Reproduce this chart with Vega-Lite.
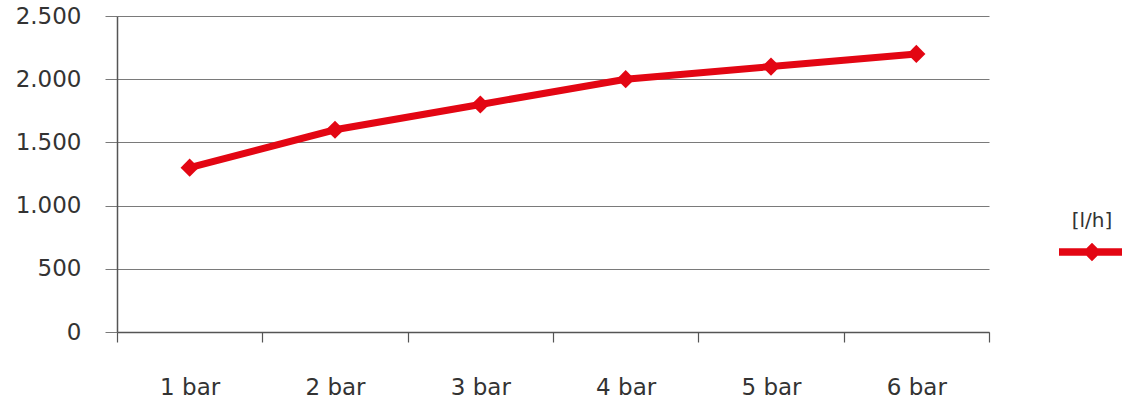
{
  "$schema": "https://vega.github.io/schema/vega-lite/v6.json",
  "width": 872,
  "height": 316,
  "autosize": {"type": "none"},
  "padding": {"left": 117, "top": 16, "right": 133, "bottom": 71},
  "background": "white",
  "config": {
    "view": {"stroke": null},
    "locale": {"number": {"decimal": ",", "thousands": ".", "grouping": [3], "currency": ["", " €"]}},
    "axis": {"labelFont": "DejaVu Sans", "labelFontSize": 23, "labelColor": "#333333"},
    "legend": {"labelFont": "DejaVu Sans", "titleFont": "DejaVu Sans"}
  },
  "data": {
    "values": [
      {"druck": "1 bar", "wert": 1300, "serie": "[l/h]"},
      {"druck": "2 bar", "wert": 1600, "serie": "[l/h]"},
      {"druck": "3 bar", "wert": 1800, "serie": "[l/h]"},
      {"druck": "4 bar", "wert": 2000, "serie": "[l/h]"},
      {"druck": "5 bar", "wert": 2100, "serie": "[l/h]"},
      {"druck": "6 bar", "wert": 2200, "serie": "[l/h]"}
    ]
  },
  "mark": {"type": "line", "strokeWidth": 7, "point": {"shape": "diamond", "size": 330, "filled": true, "opacity": 1}},
  "encoding": {
    "x": {
      "field": "druck",
      "type": "ordinal",
      "scale": {"type": "band", "paddingInner": 0, "paddingOuter": 0},
      "axis": {
        "title": null,
        "labelAngle": 0,
        "tickBand": "extent",
        "grid": false,
        "domainColor": "#555555",
        "domainWidth": 1.5,
        "tickColor": "#555555",
        "tickSize": 10,
        "tickWidth": 1.2,
        "labelPadding": 34,
        "labelFontSize": 23
      }
    },
    "y": {
      "field": "wert",
      "type": "quantitative",
      "scale": {"domain": [0, 2500], "nice": false},
      "axis": {
        "title": null,
        "values": [0, 500, 1000, 1500, 2000, 2500],
        "format": ",d",
        "grid": true,
        "gridColor": "#7a7a7a",
        "gridWidth": 1,
        "domainColor": "#555555",
        "domainWidth": 1.5,
        "tickColor": "#7a7a7a",
        "tickSize": 12,
        "labelPadding": 24,
        "labelFontSize": 23
      }
    },
    "color": {
      "field": "serie",
      "type": "nominal",
      "scale": {"range": ["#e30613"]},
      "legend": {
        "title": "[l/h]",
        "titleFontSize": 20,
        "titleFontWeight": "normal",
        "titleColor": "#333333",
        "titleAnchor": "middle",
        "titleAlign": "center",
        "titlePadding": -12,
        "orient": "none",
        "legendX": 942,
        "legendY": 195,
        "padding": 0,
        "direction": "vertical",
        "symbolType": "M-1,-0.11H1V0.11H-1Z M0,-0.28L0.28,0L0,0.28L-0.28,0Z",
        "symbolSize": 4356,
        "symbolStrokeWidth": 0,
        "symbolFillColor": "#e30613",
        "labelExpr": "''",
        "labelOffset": 0,
        "labelFontSize": 1,
        "encode": {"symbols": {"update": {"fill": {"value": "#e30613"}, "strokeWidth": {"value": 0}, "opacity": {"value": 1}}}}
      }
    }
  }
}
